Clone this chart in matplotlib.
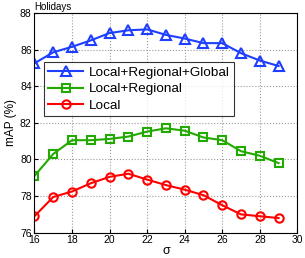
import matplotlib
matplotlib.use("Agg")
import matplotlib.pyplot as plt

plt.rcParams['font.family'] = ['Liberation Sans', 'DejaVu Sans']

sigma = [16, 17, 18, 19, 20, 21, 22, 23, 24, 25, 26, 27, 28, 29]
lrg = [85.25, 85.85, 86.15, 86.5, 86.9, 87.05, 87.1, 86.8, 86.6, 86.35, 86.35, 85.8, 85.4, 85.1]
lr = [79.1, 80.3, 81.05, 81.05, 81.12, 81.25, 81.52, 81.7, 81.57, 81.2, 81.05, 80.45, 80.2, 79.8]
loc = [76.9, 77.95, 78.25, 78.7, 79.05, 79.22, 78.9, 78.6, 78.35, 78.05, 77.5, 77.0, 76.9, 76.8]
labels = ['Local+Regional+Global', 'Local+Regional', 'Local']
xticks = [16, 18, 20, 22, 24, 26, 28, 30]
yticks = [76, 78, 80, 82, 84, 86, 88]

fig = plt.figure(figsize=(3.05, 2.58), dpi=100)
ax = fig.add_axes([0.113, 0.098, 0.862, 0.852])

ax.plot(sigma, lrg, color='#1f3fff', marker='^', mfc='none', mew=1.5, ms=7, lw=1.5, label=labels[0])
ax.plot(sigma, lr, color='#22aa00', marker='s', mfc='none', mew=1.5, ms=6, lw=1.5, label=labels[1])
ax.plot(sigma, loc, color='#ff0000', marker='o', mfc='none', mew=1.5, ms=6, lw=1.5, label=labels[2])

ax.set_xlim(16, 30)
ax.set_ylim(76, 88)
ax.set_xticks(xticks)
ax.set_yticks(yticks)
ax.tick_params(direction='in', labelsize=7.5, length=3, pad=2)
ax.grid(True, linestyle=':', color='#999999', linewidth=0.8)
ax.set_xlabel('σ', fontsize=9, labelpad=0)
ax.set_ylabel('mAP (%)', fontsize=8.5, labelpad=2)
ax.text(0.0, 1.005, 'Holidays', transform=ax.transAxes, fontsize=7, ha='left', va='bottom')

leg = ax.legend(loc='upper left', bbox_to_anchor=(0.037, 0.775), fontsize=9.7, frameon=True,
                fancybox=False, edgecolor='black', borderpad=0.3, labelspacing=0.3,
                handlelength=2.6, handletextpad=0.4, borderaxespad=0)
leg.get_frame().set_linewidth(0.8)

fig.savefig('out.png', dpi=100)
